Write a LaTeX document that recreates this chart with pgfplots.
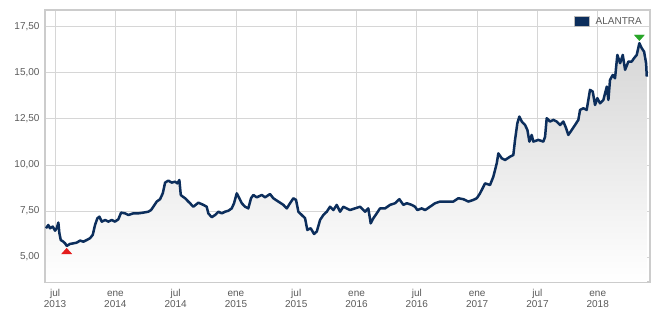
\documentclass[border=0pt]{standalone}
\usepackage{fontspec}
\setmainfont{Liberation Sans}
\usepackage{pgfplots}
\pgfplotsset{compat=1.18}
\usepackage{pgfplotstable}
\usepgfplotslibrary{fillbetween}
\definecolor{navy}{RGB}{12,46,92}
\definecolor{gridc}{RGB}{214,214,214}
\definecolor{framec}{RGB}{204,204,204}
\definecolor{txt}{RGB}{90,90,90}
\definecolor{upred}{RGB}{228,28,28}
\definecolor{dngreen}{RGB}{40,165,40}
\definecolor{fillc}{RGB}{214,214,214}
\pgfplotstableread{
m v
-0.90 6.56
-0.67 6.74
-0.50 6.56
-0.23 6.65
0.00 6.43
0.17 6.56
0.33 6.87
0.43 6.29
0.57 5.92
0.83 5.83
1.00 5.74
1.16 5.60
1.49 5.71
1.82 5.74
2.16 5.78
2.49 5.89
2.82 5.83
3.15 5.92
3.48 6.02
3.75 6.20
3.98 6.74
4.21 7.10
4.41 7.19
4.65 6.92
4.98 7.01
5.30 6.92
5.64 7.01
5.97 6.92
6.30 7.05
6.57 7.41
6.97 7.37
7.29 7.28
7.79 7.37
8.29 7.37
8.79 7.41
9.28 7.46
9.55 7.55
9.78 7.73
10.12 8.01
10.45 8.14
10.72 8.46
10.95 9.04
11.27 9.15
11.61 9.04
11.94 9.09
12.17 9.00
12.37 9.18
12.51 8.37
12.71 8.28
12.94 8.19
13.26 8.01
13.43 7.92
13.76 7.73
14.26 7.95
14.76 7.83
15.09 7.73
15.25 7.37
15.59 7.16
15.92 7.28
16.25 7.46
16.59 7.37
16.92 7.46
17.24 7.51
17.58 7.64
17.81 7.92
18.08 8.46
18.34 8.19
18.58 7.92
18.91 7.73
19.23 7.64
19.50 8.19
19.73 8.37
20.07 8.24
20.57 8.37
20.90 8.24
21.39 8.42
21.72 8.19
22.22 8.01
22.72 7.83
23.06 7.64
23.38 7.92
23.71 8.19
23.98 8.10
24.21 7.46
24.55 7.28
24.88 7.10
25.10 6.47
25.44 6.56
25.77 6.25
26.04 6.38
26.37 7.01
26.70 7.28
27.04 7.46
27.36 7.73
27.69 7.55
28.03 7.83
28.36 7.46
28.69 7.73
29.35 7.55
29.85 7.64
30.35 7.73
30.85 7.46
31.17 7.64
31.41 6.83
31.67 7.10
32.01 7.37
32.34 7.64
32.84 7.64
33.33 7.83
33.83 7.92
34.26 8.14
34.66 7.83
35.00 7.92
35.49 7.83
35.82 7.73
36.05 7.55
36.49 7.64
36.82 7.55
37.31 7.73
37.81 7.92
38.31 8.01
38.98 8.01
39.63 8.01
40.13 8.19
40.63 8.14
41.12 8.01
41.62 8.10
41.96 8.19
42.29 8.46
42.79 9.00
43.28 8.91
43.61 9.36
43.95 10.09
44.11 10.63
44.45 10.36
44.78 10.27
45.27 10.45
45.60 10.54
45.77 11.36
46.00 12.27
46.20 12.63
46.44 12.36
46.77 12.17
47.00 11.90
47.20 11.27
47.43 11.63
47.59 11.27
48.09 11.36
48.59 11.27
48.76 11.54
48.92 12.54
49.25 12.36
49.58 12.45
49.92 12.36
50.25 12.17
50.58 12.36
50.85 12.00
51.07 11.63
51.41 11.90
51.74 12.17
52.07 12.45
52.24 12.99
52.57 13.08
52.90 12.99
53.23 14.08
53.50 13.99
53.73 13.26
53.96 13.63
54.23 13.35
54.56 13.53
54.90 14.26
55.06 13.53
55.22 14.62
55.49 14.89
55.72 14.71
55.95 15.98
56.22 15.53
56.49 15.98
56.72 15.17
57.05 15.62
57.38 15.62
57.61 15.80
57.88 15.98
58.14 16.62
58.38 16.34
58.61 16.16
58.81 15.53
58.88 14.80
}\alantra
\pgfplotstableread{
m v
-0.90 3.64
58.88 3.64
}\base
\begin{document}
\begin{tikzpicture}
\begin{axis}[
  set layers,
  scale only axis, width=605bp, height=272bp,
  xmin=-1, xmax=59.2, ymin=3.64, ymax=18.42,
  xtick={0,6,12,18,24,30,36,42,48,54},
  xticklabels={{\strut jul\\\strut 2013},{\strut ene\\\strut 2014},{\strut jul\\\strut 2014},{\strut ene\\\strut 2015},{\strut jul\\\strut 2015},{\strut ene\\\strut 2016},{\strut jul\\\strut 2016},{\strut ene\\\strut 2017},{\strut jul\\\strut 2017},{\strut ene\\\strut 2018}},
  ytick={5,7.5,10,12.5,15,17.5},
  yticklabels={{5,00},{7,50},{10,00},{12,50},{15,00},{17,50}},
  tick label style={font=\fontsize{10bp}{11bp}\selectfont, text=txt},
  xticklabel style={align=center, anchor=north, yshift=-3bp},
  yticklabel style={xshift=-2bp},
  grid=major, major grid style={draw=gridc, line width=0.9bp},
  major tick length=0pt,
  axis line style={draw=framec, line width=1.8bp},
  legend style={at={(1,1)}, anchor=north east, xshift=-5bp, yshift=-4bp, draw=none, fill=none,
    font=\fontsize{10bp}{11bp}\selectfont, text=txt, inner sep=1bp},
  legend cell align=left,
]
\addplot[draw=none, name path=A, forget plot] table[x=m, y=v] {\alantra};
\addplot[draw=none, name path=B, forget plot] table[x=m, y=v] {\base};
\addplot[on layer=axis background, draw=none, top color=fillc, bottom color=white, forget plot] fill between[of=A and B];
\addplot[navy, line width=2.5bp, line join=round,
  legend image code/.code={\draw[fill=navy, draw=gray!55, line width=0.8bp] (-2bp,-5bp) rectangle (13bp,5bp);}]
  table[x=m, y=v] {\alantra};
\addlegendentry{\hspace{4bp}ALANTRA}
\addplot[only marks, mark=triangle*, mark size=5.8bp, mark options={fill=upred, draw=upred, yscale=0.65}, forget plot]
  coordinates {(1.16,5.27)};
\addplot[only marks, mark=triangle*, mark size=5.8bp, mark options={fill=dngreen, draw=dngreen, rotate=180, yscale=0.65}, forget plot]
  coordinates {(58.14,16.96)};
\end{axis}
\path (current axis.south west) ++(-45bp,-32bp);
\path (current axis.north east) ++(2bp,10bp);
\end{tikzpicture}
\end{document}
